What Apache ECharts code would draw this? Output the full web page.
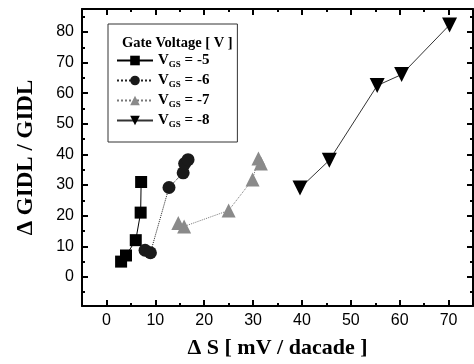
<!DOCTYPE html>
<html>
<head>
<meta charset="utf-8">
<script src="https://cdn.jsdelivr.net/npm/echarts@6/dist/echarts.min.js"></script>
<style>
  html, body { margin: 0; padding: 0; background: #fff; }
  #chart { width: 474px; height: 364px; }
</style>
</head>
<body>
<div id="chart"></div>
<script>
// Data: [dS (mV/decade), dGIDL/GIDL]
const vgs5 = [[3, 5], [4, 7], [6, 12], [7, 21], [7.1, 31]];
const vgs6 = [[7.9, 8.7], [9, 7.9], [12.8, 29.2], [15.7, 34], [16, 37], [16.7, 38.3]];
const vgs7 = [[14.7, 17.6], [15.9, 16.5], [25, 21.7], [29.9, 31.8], [31.1, 38.7], [31.6, 37]];
const vgs8 = [[39.6, 29], [45.6, 38.1], [55.4, 62.5], [60.4, 66.1], [70.2, 82.3]];

const seriesNames = ['-5', '-6', '-7', '-8'];

const xMajor = [0, 10, 20, 30, 40, 50, 60, 70];
const xMinor = [-5, 5, 15, 25, 35, 45, 55, 65, 75];
const yMajor = [0, 10, 20, 30, 40, 50, 60, 70, 80];
const yMinor = [-5, 5, 15, 25, 35, 45, 55, 65, 75, 85];

const X_MIN = -5, X_MAX = 75, Y_MIN = -9.5, Y_MAX = 87.5;

const serif = '"Liberation Serif", "Times New Roman", serif';
const sans = '"Liberation Sans", Arial, sans-serif';

// one axis = ticks only (major or minor), labels only on the main one
function xAx(pos, ticks, len, withLabel) {
  return {
    type: 'value', position: pos, min: X_MIN, max: X_MAX,
    axisLine: { show: len > 4, onZero: false, lineStyle: { color: '#000', width: 2 } },
    axisTick: { inside: true, length: len, customValues: ticks, lineStyle: { color: '#000', width: 2 } },
    axisLabel: withLabel
      ? { customValues: xMajor, margin: 7, color: '#000', fontSize: 16, fontFamily: sans }
      : { show: false },
    splitLine: { show: false },
  };
}
function yAx(pos, ticks, len, withLabel) {
  return {
    type: 'value', position: pos, min: Y_MIN, max: Y_MAX,
    axisLine: { show: len > 4, onZero: false, lineStyle: { color: '#000', width: 2 } },
    axisTick: { inside: true, length: len, customValues: ticks, lineStyle: { color: '#000', width: 2 } },
    axisLabel: withLabel
      ? { customValues: yMajor, margin: 8, color: '#000', fontSize: 16, fontFamily: sans }
      : { show: false },
    splitLine: { show: false },
  };
}

const xAxes = [
  xAx('bottom', xMajor, 6, true),
  xAx('bottom', xMinor, 3, false),
  xAx('top', xMajor, 6, false),
  xAx('top', xMinor, 3, false),
];
xAxes[0].name = 'Δ S [ mV / dacade ]';
xAxes[0].nameLocation = 'middle';
xAxes[0].nameGap = 31;
xAxes[0].nameTextStyle = { fontFamily: serif, fontWeight: 'bold', fontSize: 22, color: '#000' };

const yAxes = [
  yAx('left', yMajor, 6, true),
  yAx('left', yMinor, 3, false),
  yAx('right', yMajor, 6, false),
  yAx('right', yMinor, 3, false),
];
yAxes[0].name = 'Δ GIDL / GIDL';
yAxes[0].nameLocation = 'middle';
yAxes[0].nameGap = 44;
yAxes[0].nameTextStyle = { fontFamily: serif, fontWeight: 'bold', fontSize: 23, color: '#000' };

function mk(name, data, symbol, size, color, lineType, lineColor, rotate) {
  return {
    name, type: 'line', data, symbol, symbolSize: size, symbolRotate: rotate || 0,
    xAxisIndex: 0, yAxisIndex: 0,
    itemStyle: { color },
    lineStyle: { color: lineColor, width: 1, type: lineType },
    animation: false,
  };
}

const chart = echarts.init(document.getElementById('chart'));
chart.setOption({
  animation: false,
  grid: { left: 82, right: 1, top: 9, bottom: 56, containLabel: false },
  title: {
    text: 'Gate Voltage [ V ]', left: 117, top: 31,
    textStyle: { fontFamily: serif, fontWeight: 'bold', fontSize: 14.5, color: '#000' },
  },
  legend: {
    orient: 'vertical', left: 108, top: 24,
    padding: [28, 28, 13, 8],
    itemGap: 3, itemWidth: 36, itemHeight: 12,
    borderColor: '#333', borderWidth: 1,
    data: seriesNames,
    formatter: (n) => '{v|V}{s|GS}{v| = ' + n + '}',
    textStyle: {
      rich: {
        v: { fontFamily: serif, fontWeight: 'bold', fontSize: 15, color: '#000', lineHeight: 18 },
        s: { fontFamily: serif, fontWeight: 'bold', fontSize: 9, color: '#000', padding: [8, 0, 0, 0], lineHeight: 10 },
      },
    },
  },
  xAxis: xAxes,
  yAxis: yAxes,
  series: [
    mk('-5', vgs5, 'rect', 12, '#000', 'solid', '#000'),
    mk('-6', vgs6, 'circle', 13, '#1a1a1a', 'dotted', '#222'),
    mk('-7', vgs7, 'triangle', 14, '#8a8a8a', 'dotted', '#777'),
    mk('-8', vgs8, 'triangle', 15, '#000', 'solid', '#333', 180),
  ],
});
</script>
</body>
</html>
